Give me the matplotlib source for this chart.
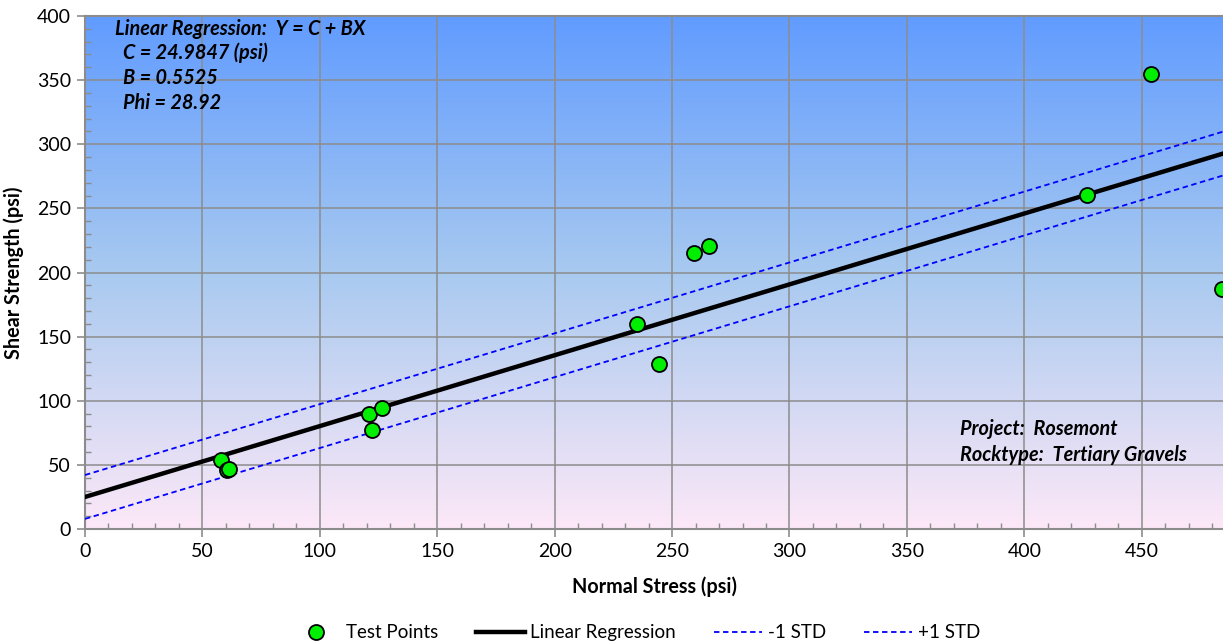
import numpy as np
import matplotlib
matplotlib.use("Agg")
import matplotlib.pyplot as plt
from matplotlib.ticker import MultipleLocator
from matplotlib.colors import LinearSegmentedColormap

plt.rcParams['font.family'] = ['Lato', 'DejaVu Sans']

# Data
normal_stress = [57.9, 60.3, 61.3, 121.1, 122.4, 126.4, 235.1, 244.3, 259.2, 265.8, 426.7, 454.0, 484.3]
shear_strength = [53.8, 46.0, 46.6, 89.5, 77.0, 94.6, 159.7, 128.9, 215.3, 220.8, 260.5, 354.9, 187.2]
C = 24.9847
B = 0.5525
STD = 17.1
x_line = [0, 485]

fig = plt.figure(figsize=(12.23, 6.42), dpi=100)
ax = fig.add_axes([85/1223, 1 - 529/642, 1 - 85/1223, (529 - 16)/642])

xmax = 484.6
ax.set_xlim(0, xmax)
ax.set_ylim(0, 400)

# gradient background
cmap = LinearSegmentedColormap.from_list('bg', [(0.99, 0.91, 0.97), (0.66, 0.79, 0.94), (0.38, 0.61, 1.0)])
grad = np.linspace(0, 1, 256).reshape(-1, 1)
ax.imshow(grad, extent=[0, xmax, 0, 400], origin='lower', aspect='auto', cmap=cmap, zorder=0)

ax.xaxis.set_major_locator(MultipleLocator(50))
ax.xaxis.set_minor_locator(MultipleLocator(10))
ax.yaxis.set_major_locator(MultipleLocator(50))
ax.yaxis.set_minor_locator(MultipleLocator(10))
ax.grid(True, which='major', color='#8c8c8c', linewidth=1.1, zorder=1)
ax.set_axisbelow(False)

gray = '#8c8c8c'
for s in ['left', 'bottom', 'top']:
    ax.spines[s].set_color(gray)
    ax.spines[s].set_linewidth(1.5)
ax.spines['right'].set_visible(False)
ax.tick_params(which='major', direction='out', length=6, width=1.2, color=gray, labelsize=14, pad=4)
ax.tick_params(which='minor', direction='in', length=4, width=1.0, color=gray)

xl = np.array(x_line, dtype=float)
yl = C + B * xl
ax.plot(xl, yl + STD, color='#0000ff', ls=(0, (3, 2)), lw=1.3, zorder=3, label='+1 STD')
ax.plot(xl, yl - STD, color='#0000ff', ls=(0, (3, 2)), lw=1.3, zorder=3, label='-1 STD')
ax.plot(xl, yl, color='black', lw=3.2, zorder=4, label='Linear Regression')
ax.plot(normal_stress, shear_strength, 'o', ms=10.8, mfc='#00ee00', mec='black', mew=1.3,
        zorder=5, label='Test Points', clip_on=True)

ax.set_xlabel('Normal Stress (psi)', fontsize=14.2, fontweight='bold', labelpad=12)
ax.set_ylabel('Shear Strength (psi)', fontsize=14.2, fontweight='bold', labelpad=9)

fs = 14.3
ax.text(12.8, 390, 'Linear Regression:  Y = C + BX', fontsize=fs, fontweight='bold', style='italic', va='center')
ax.text(16.2, 371, 'C = 24.9847 (psi)', fontsize=fs, fontweight='bold', style='italic', va='center')
ax.text(16.2, 352, 'B = 0.5525', fontsize=fs, fontweight='bold', style='italic', va='center')
ax.text(16.2, 332, 'Phi = 28.92', fontsize=fs, fontweight='bold', style='italic', va='center')
ax.text(372.7, 78, 'Project:  Rosemont', fontsize=fs, fontweight='bold', style='italic', va='center')
ax.text(372.7, 57.7, 'Rocktype:  Tertiary Gravels', fontsize=fs, fontweight='bold', style='italic', va='center')

h, l = ax.get_legend_handles_labels()
order = [3, 2, 1, 0]
fig.legend([h[i] for i in order], [l[i] for i in order], loc='lower center', ncol=4,
           bbox_to_anchor=(0.52, -0.025), frameon=False, fontsize=13.5, handlelength=2.6,
           columnspacing=2.0, handletextpad=0.3)

fig.savefig('out.png', dpi=100)
